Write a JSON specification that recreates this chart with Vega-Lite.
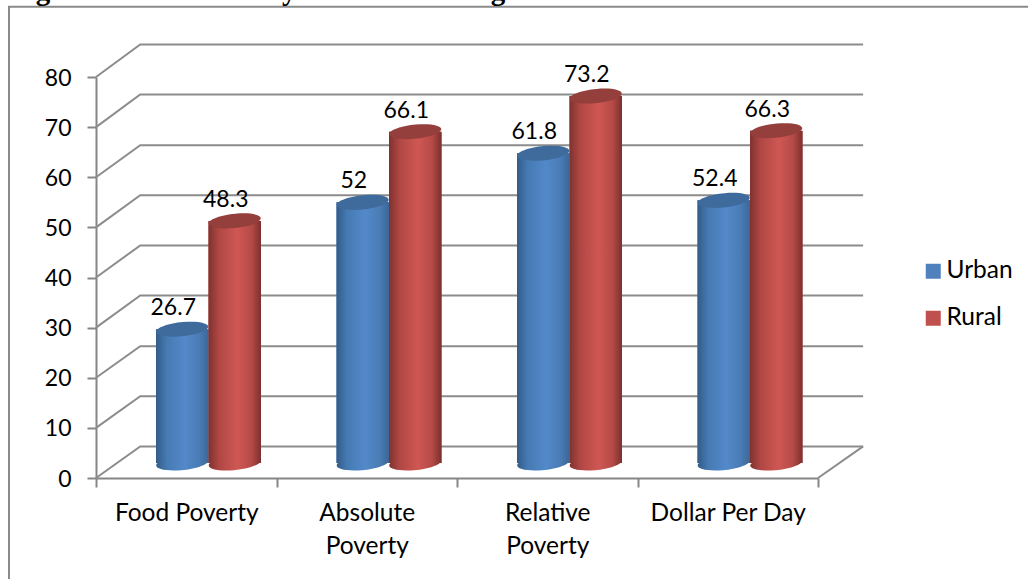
{
  "$schema": "https://vega.github.io/schema/vega-lite/v6.json",
  "width": 722,
  "height": 401,
  "padding": {"left": 96, "top": 77, "right": 210, "bottom": 101},
  "autosize": {"type": "none"},
  "background": "white",
  "config": {"view": {"stroke": null}, "font": "Lato"},
  "datasets": {
    "poverty": [
      {"measure": "Food Poverty", "area": "Urban", "incidence": 26.7},
      {"measure": "Food Poverty", "area": "Rural", "incidence": 48.3},
      {"measure": "Absolute Poverty", "area": "Urban", "incidence": 52},
      {"measure": "Absolute Poverty", "area": "Rural", "incidence": 66.1},
      {"measure": "Relative Poverty", "area": "Urban", "incidence": 61.8},
      {"measure": "Relative Poverty", "area": "Rural", "incidence": 73.2},
      {"measure": "Dollar Per Day", "area": "Urban", "incidence": 52.4},
      {"measure": "Dollar Per Day", "area": "Rural", "incidence": 66.3}
    ],
    "walls": [
      {"level": "floor edge", "depth": 4, "height": 0}, {"level": "floor edge", "depth": 4.25, "height": 6.3},
      {"level": "0", "depth": 0, "height": 0}, {"level": "0", "depth": 0.245, "height": 6.3}, {"level": "0", "depth": 4.25, "height": 6.3},
      {"level": "10", "depth": 0, "height": 10}, {"level": "10", "depth": 0.245, "height": 16.3}, {"level": "10", "depth": 4.25, "height": 16.3},
      {"level": "20", "depth": 0, "height": 20}, {"level": "20", "depth": 0.245, "height": 26.3}, {"level": "20", "depth": 4.25, "height": 26.3},
      {"level": "30", "depth": 0, "height": 30}, {"level": "30", "depth": 0.245, "height": 36.4}, {"level": "30", "depth": 4.25, "height": 36.4},
      {"level": "40", "depth": 0, "height": 40}, {"level": "40", "depth": 0.245, "height": 46.4}, {"level": "40", "depth": 4.25, "height": 46.4},
      {"level": "50", "depth": 0, "height": 50}, {"level": "50", "depth": 0.245, "height": 56.4}, {"level": "50", "depth": 4.25, "height": 56.4},
      {"level": "60", "depth": 0, "height": 60}, {"level": "60", "depth": 0.245, "height": 66.4}, {"level": "60", "depth": 4.25, "height": 66.4},
      {"level": "70", "depth": 0, "height": 70}, {"level": "70", "depth": 0.245, "height": 76.5}, {"level": "70", "depth": 4.25, "height": 76.5},
      {"level": "80", "depth": 0, "height": 80}, {"level": "80", "depth": 0.245, "height": 86.5}, {"level": "80", "depth": 4.25, "height": 86.5}
    ]
  },
  "resolve": {"scale": {"x": "independent"}},
  "layer": [
    {
      "layer": [
        {
          "data": {"values": [{"left": -0.482, "right": 6, "top": 94, "bottom": -30}]},
          "mark": {"type": "rect", "fill": null, "stroke": "#8a8a8a", "strokeWidth": 2, "clip": false},
          "encoding": {
            "x": {"field": "left", "type": "quantitative", "scale": {"domain": [0, 4]}, "axis": null},
            "x2": {"field": "right"},
            "y": {"field": "top", "type": "quantitative", "scale": {"domain": [0, 80], "nice": false}, "axis": {"values": [0, 10, 20, 30, 40, 50, 60, 70, 80], "title": null, "grid": false, "domainColor": "#868686", "domainWidth": 2, "tickColor": "#868686", "tickWidth": 2, "tickSize": 9, "labelFont": "Lato", "labelFontSize": 23, "labelColor": "#000000", "labelPadding": 16, "labelOffset": 1}},
            "y2": {"field": "bottom"}
          }
        },
        {
          "data": {"values": [{"left": -0.476, "top": 95.3, "caption": "Figure 10: The Poverty Incidence in Nigeria: Urban versus Rural"}]},
          "mark": {"type": "text", "align": "left", "baseline": "alphabetic", "font": "Liberation Serif", "fontWeight": "bold", "fontSize": 29, "color": "#000000", "clip": false},
          "encoding": {
            "x": {"field": "left", "type": "quantitative", "scale": {"domain": [0, 4]}, "axis": null},
            "y": {"field": "top", "type": "quantitative"},
            "text": {"field": "caption"}
          }
        },
        {
          "data": {"name": "walls"},
          "mark": {"type": "line", "stroke": "#8c8c8c", "strokeWidth": 2, "clip": false},
          "encoding": {
            "x": {"field": "depth", "type": "quantitative", "scale": {"domain": [0, 4]}, "axis": null},
            "y": {"field": "height", "type": "quantitative"},
            "detail": {"field": "level"}
          }
        }
      ]
    },
    {
      "data": {"name": "poverty"},
      "encoding": {
        "x": {"field": "measure", "type": "nominal", "sort": null, "scale": {"paddingInner": 0, "paddingOuter": 0}, "axis": {"title": null, "labelAngle": 0, "tickBand": "extent", "domainColor": "#868686", "domainWidth": 2, "tickColor": "#868686", "tickWidth": 2, "tickSize": 9, "labelFont": "Lato", "labelFontSize": 24.5, "labelColor": "#000000", "labelPadding": 14, "labelLineHeight": 33, "labelExpr": "datum.label == 'Food Poverty' || datum.label == 'Dollar Per Day' ? datum.label : split(datum.label, ' ')"}},
        "xOffset": {"field": "area", "type": "nominal", "sort": ["Urban", "Rural"], "scale": {"domain": ["Urban", "Rural"], "range": [60, 165], "paddingInner": 0, "paddingOuter": 0}}
      },
      "layer": [
        {
          "transform": [{"filter": "datum.area == 'Rural'"}],
          "mark": {"type": "bar", "color": "#000000", "opacity": 0.14, "xOffset": 2, "x2Offset": 2, "yOffset": -13, "y2Offset": -15},
          "encoding": {"y": {"field": "incidence", "type": "quantitative"}, "y2": {"datum": 0}}
        },
        {
          "mark": {"type": "bar", "yOffset": -15, "y2Offset": -15, "clip": false},
          "encoding": {
            "y": {"field": "incidence", "type": "quantitative"},
            "y2": {"datum": 0},
            "color": {"field": "area", "type": "nominal", "scale": {"domain": ["Urban", "Rural"], "range": ["#4f81bd", "#c0504d"]}, "legend": {"title": null, "orient": "none", "legendX": 825, "legendY": 182, "symbolType": "square", "symbolSize": 225, "symbolStrokeWidth": 0, "symbolOpacity": 1, "labelFont": "Lato", "labelFontSize": 24.5, "labelColor": "#000000", "labelOffset": 1, "rowPadding": 22}}
          }
        },
        {
          "transform": [{"filter": "datum.area == 'Urban'"}],
          "layer": [
            {
              "mark": {"type": "point", "filled": true, "size": 2704, "strokeWidth": 0, "opacity": 1, "yOffset": -15, "shape": "M-1,0.09A1,0.27,-6,1,1,1,-0.09A1,0.27,-6,1,1,-1,0.09Z",
                "color": {"gradient": "linear", "x1": 0, "y1": 0, "x2": 1, "y2": 0, "stops": [{"offset": 0, "color": "#335b88"}, {"offset": 0.2, "color": "#457ab2"}, {"offset": 0.55, "color": "#5389ca"}, {"offset": 0.82, "color": "#4a7cb5"}, {"offset": 1, "color": "#3c6798"}]}},
              "encoding": {"y": {"datum": 0}}
            },
            {
              "mark": {"type": "bar", "yOffset": -15, "y2Offset": -15,
                "color": {"gradient": "linear", "x1": 0, "y1": 0, "x2": 1, "y2": 0, "stops": [{"offset": 0, "color": "#335b88"}, {"offset": 0.2, "color": "#457ab2"}, {"offset": 0.55, "color": "#5389ca"}, {"offset": 0.82, "color": "#4a7cb5"}, {"offset": 1, "color": "#3c6798"}]}},
              "encoding": {"y": {"field": "incidence", "type": "quantitative"}, "y2": {"datum": 0}}
            },
            {
              "mark": {"type": "point", "filled": true, "size": 2704, "strokeWidth": 0, "opacity": 1, "yOffset": -15, "color": "#3f6a9c", "shape": "M-1,0.09A1,0.27,-6,1,1,1,-0.09A1,0.27,-6,1,1,-1,0.09Z"},
              "encoding": {"y": {"field": "incidence", "type": "quantitative"}}
            }
          ]
        },
        {
          "transform": [{"filter": "datum.area == 'Rural'"}],
          "layer": [
            {
              "mark": {"type": "point", "filled": true, "size": 2704, "strokeWidth": 0, "opacity": 1, "yOffset": -15, "shape": "M-1,0.09A1,0.27,-6,1,1,1,-0.09A1,0.27,-6,1,1,-1,0.09Z",
                "color": {"gradient": "linear", "x1": 0, "y1": 0, "x2": 1, "y2": 0, "stops": [{"offset": 0, "color": "#7f3230"}, {"offset": 0.2, "color": "#b04744"}, {"offset": 0.55, "color": "#cf5753"}, {"offset": 0.82, "color": "#b54a47"}, {"offset": 1, "color": "#7b302e"}]}},
              "encoding": {"y": {"datum": 0}}
            },
            {
              "mark": {"type": "bar", "yOffset": -15, "y2Offset": -15,
                "color": {"gradient": "linear", "x1": 0, "y1": 0, "x2": 1, "y2": 0, "stops": [{"offset": 0, "color": "#7f3230"}, {"offset": 0.2, "color": "#b04744"}, {"offset": 0.55, "color": "#cf5753"}, {"offset": 0.82, "color": "#b54a47"}, {"offset": 1, "color": "#7b302e"}]}},
              "encoding": {"y": {"field": "incidence", "type": "quantitative"}, "y2": {"datum": 0}}
            },
            {
              "mark": {"type": "point", "filled": true, "size": 2704, "strokeWidth": 0, "opacity": 1, "yOffset": -15, "color": "#953f3c", "shape": "M-1,0.09A1,0.27,-6,1,1,1,-0.09A1,0.27,-6,1,1,-1,0.09Z"},
              "encoding": {"y": {"field": "incidence", "type": "quantitative"}}
            }
          ]
        },
        {
          "mark": {"type": "text", "font": "Lato", "fontSize": 23, "color": "#000000", "dx": -9, "dy": -29, "baseline": "alphabetic", "align": "center"},
          "encoding": {
            "y": {"field": "incidence", "type": "quantitative"},
            "text": {"field": "incidence", "type": "quantitative"}
          }
        }
      ]
    }
  ]
}
